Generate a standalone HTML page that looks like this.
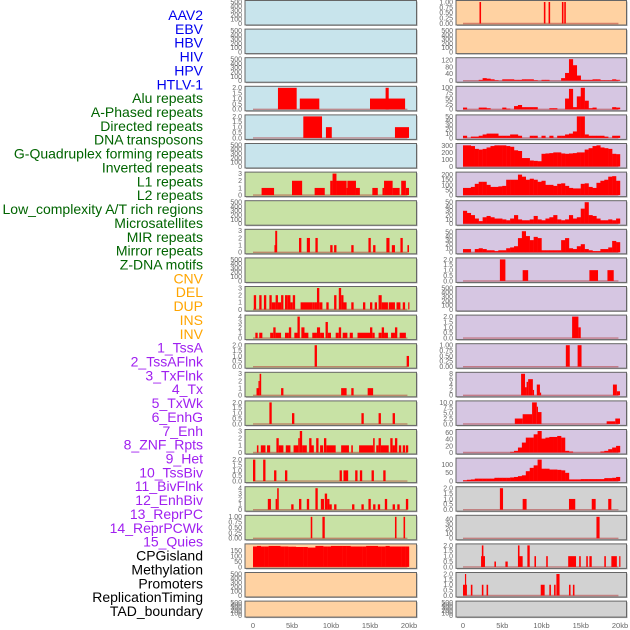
<!DOCTYPE html>
<html><head><meta charset="utf-8"><style>
body{margin:0;background:#fff;width:630px;height:630px;overflow:hidden}
svg{display:block}
.lab{font-family:"Liberation Sans",sans-serif;font-size:14px}
.tk{font-family:"Liberation Sans",sans-serif;font-size:7px;fill:#666}
.xt{font-family:"Liberation Sans",sans-serif;font-size:7.5px;fill:#666}
</style></head><body>
<svg id="chart" width="630" height="630" xmlns="http://www.w3.org/2000/svg"></svg>
<script>
const labels=["AAV2","EBV","HBV","HIV","HPV","HTLV-1","Alu repeats","A-Phased repeats","Directed repeats","DNA transposons","G-Quadruplex forming repeats","Inverted repeats","L1 repeats","L2 repeats","Low_complexity A/T rich regions","Microsatellites","MIR repeats","Mirror repeats","Z-DNA motifs","CNV","DEL","DUP","INS","INV","1_TssA","2_TssAFlnk","3_TxFlnk","4_Tx","5_TxWk","6_EnhG","7_Enh","8_ZNF_Rpts","9_Het","10_TssBiv","11_BivFlnk","12_EnhBiv","13_ReprPC","14_ReprPCWk","15_Quies","CPGisland","Methylation","Promoters","ReplicationTiming","TAD_boundary"];
const labelColors=[].concat(Array(6).fill("#0000ee"),Array(13).fill("#006400"),Array(5).fill("#ffa500"),Array(15).fill("#a020f0"),Array(5).fill("#000"));
const xTicks=[0,5,10,15,20];
const xTickLabels=["0","5kb","10kb","15kb","20kb"];
const leftBgs=["b","b","b","b","b","b","g","g","g","g","g","g","g","g","g","g","g","g","g","o","o","o"];
const rightBgs=["o","o","p","p","p","p","p","p","p","p","p","p","p","p","p","p","p","y","y","y","y","y"];
// left segments [startKb,endKb,value]
const L3=[[3.2,5.6,2],[6.0,8.5,1],[15.0,19.5,1],[17.0,17.4,2]];
const L4=[[6.45,8.85,2],[9.35,10.1,1],[18.2,20.0,1]];
const L6=[[1.1,2.7,1],[5.0,6.3,2],[7.9,9.2,1],[9.9,10.2,2],[10.2,10.7,3],[10.7,12.0,2],[12.0,12.1,1],[12.1,13.2,2],[13.2,13.7,1],[15.3,16.0,1],[16.6,16.8,1],[16.8,17.9,2],[17.9,18.8,1],[19.0,19.6,2],[19.6,20.0,1]];
const L8=[[2.85,3.1,3],[2.75,2.85,1],[5.9,6.2,2],[6.9,7.3,2],[8.0,8.3,2],[9.9,10.2,1],[10.4,10.7,1],[12.6,12.9,1],[14.8,15.1,2],[15.4,15.7,1],[17.1,17.5,2],[17.8,18.2,1],[18.9,19.2,2],[19.8,20.0,1]];
const L10=[[0.1,0.4,2],[0.8,1.1,2],[1.4,1.7,2],[2.1,2.4,2],[2.4,2.9,1],[2.9,3.2,2],[3.2,3.6,1],[3.6,3.9,2],[4.1,4.4,2],[4.4,4.8,2],[4.8,5.1,1],[5.1,5.4,2],[6.1,7.6,1],[7.6,7.9,1],[7.9,8.2,1],[8.2,8.5,3],[8.5,8.9,1],[9.4,9.7,1],[10.4,10.7,2],[11.0,11.3,3],[11.3,11.6,2],[11.6,12.0,1],[12.6,12.9,1],[14.1,14.4,1],[15.0,15.3,1],[15.6,15.9,1],[16.1,16.5,2],[16.5,17.3,1],[17.4,18.2,1],[18.4,18.9,1],[19.2,19.5,1],[19.9,20.0,1]];
const L11=[[0.3,0.6,1],[0.8,1.2,1],[2.2,2.6,1],[2.6,2.9,2],[2.9,3.6,1],[4.1,4.6,1],[4.6,4.9,2],[5.3,5.7,1],[5.7,6.0,4],[6.2,6.6,2],[6.6,7.1,1],[7.6,8.2,1],[8.2,8.6,2],[8.6,9.1,1],[9.3,9.6,3],[9.6,10.0,1],[10.6,11.0,1],[11.0,11.3,2],[11.5,12.1,1],[12.4,12.8,1],[13.4,15.0,1],[15.0,15.3,2],[15.3,15.6,1],[16.1,16.5,1],[16.5,16.8,2],[16.8,17.3,1],[17.7,18.2,1],[18.2,18.5,2],[18.8,19.6,1]];
const L12=[[7.9,8.2,2],[19.7,20.0,1]];
const L13=[[0.45,0.8,1],[0.7,0.85,2],[0.85,1.05,3],[3.6,3.9,1],[11.3,12.0,1],[12.6,12.9,1],[14.7,15.4,1]];
const L14=[[2.1,2.4,2],[5.0,5.3,1],[13.9,14.2,1],[16.1,16.4,1],[17.9,18.2,1]];
const L15=[[0.5,0.7,1],[1.0,1.6,1],[1.8,2.2,1],[3.0,3.3,2],[3.3,3.9,1],[4.2,4.8,1],[5.2,5.8,1],[5.8,6.0,2],[6.0,6.3,3],[6.3,6.9,1],[7.2,7.5,2],[7.5,7.8,1],[8.1,8.4,2],[8.6,9.0,1],[9.1,9.4,2],[9.4,10.6,1],[11.3,12.3,1],[12.6,12.8,1],[13.6,15.4,1],[15.4,15.6,2],[15.8,16.1,1],[16.1,16.4,2],[16.4,17.4,1],[17.6,17.9,2],[17.9,18.2,1],[18.2,18.5,2],[18.7,19.0,1],[19.2,19.5,1],[19.6,19.9,1]];
const L16=[[0.0,0.3,2],[1.3,1.6,2],[2.7,3.0,1],[4.1,4.4,1],[11.1,11.4,1],[11.6,12.2,1],[13.1,13.4,1],[13.7,14.0,1],[15.2,15.5,1],[16.7,17.0,1]];
const L17=[[1.9,2.3,2],[2.9,3.1,2],[3.1,3.3,4],[4.9,5.2,1],[5.9,6.2,2],[6.9,7.2,2],[8.0,8.3,4],[8.7,9.1,2],[9.2,9.5,3],[9.5,9.8,2],[9.8,10.1,1],[10.4,10.7,1],[12.7,13.0,1],[13.9,14.2,1],[14.8,15.1,2],[15.4,15.7,1],[16.0,16.3,1],[16.9,17.2,2],[17.9,18.2,1],[18.5,18.8,1],[19.6,19.9,2]];
const L18=[[7.4,7.6,1],[8.9,9.2,1],[18.2,18.4,1],[19.3,19.5,1]];
const L19bins=[190,195,190,190,195,195,195,190,190,188,188,185,185,185,180,180,195,195,190,190,195,195,195,195,195,190,190,190,190,195,195,195,190,190,195,190,190,190,190,190];
// right
const R0=[[2.1,2.3,1],[10.3,10.5,1],[10.9,11.1,1],[12.6,12.8,1],[12.9,13.1,1]];
const R2bins=[0,0,0,0,5,15,12,8,3,0,8,8,8,5,5,8,8,8,3,0,5,5,0,0,0,15,45,125,90,30,5,5,5,8,8,3,3,3,8,5];
const R3bins=[8,0,0,0,8,8,5,0,0,0,8,3,0,15,20,10,10,10,10,0,0,0,5,5,0,0,50,95,10,60,100,40,5,8,0,0,0,0,10,8];
const R4bins=[5,0,3,3,5,8,10,10,10,5,5,5,8,8,5,0,0,5,5,0,5,0,5,0,5,5,8,10,15,50,50,8,5,5,5,5,3,0,5,5];
const R5bins=[300,300,290,250,240,250,270,290,300,300,300,290,280,230,220,120,120,85,80,75,180,185,190,200,200,185,180,185,190,200,200,240,260,290,300,270,260,250,180,175];
const R6bins=[70,70,80,110,130,130,100,80,80,85,90,150,150,150,200,180,150,160,150,130,140,100,100,90,110,115,90,70,65,65,110,115,80,70,120,140,150,180,185,140];
const R7bins=[30,25,20,12,6,15,18,15,12,12,10,8,12,20,10,8,8,10,18,10,8,12,15,20,10,8,10,20,12,15,35,50,20,18,12,8,8,10,8,12];
const R8bins=[8,8,0,8,10,8,5,5,3,5,5,10,12,15,35,52,40,30,38,35,5,5,5,5,5,30,35,10,8,15,20,8,5,3,3,8,8,12,28,25];
const R9=[[4.7,5.4,2],[7.6,8.3,1],[16.1,17.2,1],[18.4,19.2,1]];
const R11=[[13.9,14.7,2],[14.7,15.0,1]];
const R12=[[13.1,13.6,1],[14.6,15.1,1]];
const R13=[[7.4,7.9,8],[7.9,8.1,3],[8.1,8.3,5],[8.3,8.9,6],[8.9,9.0,2],[9.4,9.8,4],[9.8,9.9,1],[19.1,19.6,4],[19.6,20.0,1.5]];
const R14=[[6.6,7.6,2.5],[7.6,8.8,4.5],[8.8,9.4,10],[9.4,9.5,8],[9.5,10.0,5.5],[18.3,19.4,1.2],[19.4,20.0,2.5]];
const R15bins=[0,0,0,0,0,0,0,0,0,0,0,0,2,5,15,30,45,45,55,65,42,45,47,47,50,45,5,3,0,0,0,0,0,0,0,3,5,10,15,20];
const R16bins=[5,8,10,15,15,15,15,15,20,20,20,20,22,25,30,35,60,80,95,130,75,75,70,70,68,65,50,10,10,10,12,12,12,12,12,12,18,18,20,25];
const R17=[[4.7,5.1,2],[7.6,8.1,1],[13.5,14.3,1],[16.4,16.9,1],[18.5,18.9,1]];
const R18=[[17.0,17.4,45]];
const R19=[[2.3,2.8,1],[2.4,2.6,2],[4.0,4.2,0.5],[5.4,5.7,0.5],[7.0,7.2,2],[7.2,7.6,1],[8.2,8.5,2],[9.1,9.3,1],[10.6,10.8,1],[13.4,14.4,1],[14.8,15.0,1],[15.7,15.9,1],[16.1,16.4,1],[18.0,18.2,1],[18.9,19.6,1],[19.9,20.0,1]];
const R20=[[0.0,0.5,1],[0.25,0.4,2],[1.0,1.2,1],[2.4,2.6,1],[3.0,3.2,1],[9.9,10.4,1],[11.0,11.2,1],[11.6,11.8,1],[11.9,12.3,2],[13.5,13.7,1],[14.0,14.2,1]];

const emptyTicks=[0,100,200,300,400,500];
const leftPanels=[
[null,"e",500,emptyTicks,0],[null,"e",500,emptyTicks,0],[null,"e",500,emptyTicks,0],
[L3,"s",2,[0,0.5,1,1.5,2],1],[L4,"s",2,[0,0.5,1,1.5,2],1],[null,"e",500,emptyTicks,0],
[L6,"s",3,[0,1,2,3],0],[null,"e",500,emptyTicks,0],[L8,"s",3,[0,1,2,3],0],[null,"e",500,emptyTicks,0],
[L10,"s",3,[0,1,2,3],0],[L11,"s",4,[0,1,2,3,4],0],[L12,"s",2,[0,0.5,1,1.5,2],1],[L13,"s",3,[0,1,2,3],0],
[L14,"s",2,[0,0.5,1,1.5,2],1],[L15,"s",3,[0,1,2,3],0],[L16,"s",2,[0,0.5,1,1.5,2],1],[L17,"s",4,[0,1,2,3,4],0],
[L18,"s",1,[0,0.25,0.5,0.75,1],2],[L19bins,"b",200,[0,50,100,150],0],[null,"e",500,emptyTicks,0],[null,"e",500,emptyTicks,0]];
const rightPanels=[
[R0,"s",1,[0,0.25,0.5,0.75,1],2],[null,"e",500,emptyTicks,0],[R2bins,"b",125,[0,40,80,120],0],
[R3bins,"b",100,[0,25,50,75,100],0],[R4bins,"b",50,[0,10,20,30,40,50],0],[R5bins,"b",305,[0,100,200,300],0],
[R6bins,"b",210,[0,50,100,150,200],0],[R7bins,"b",50,[0,10,20,30,40,50],0],[R8bins,"b",53,[0,10,20,30,40,50],0],
[R9,"s",2,[0,0.5,1,1.5,2],1],[null,"e",500,emptyTicks,0],[R11,"s",2,[0,0.5,1,1.5,2],1],
[R12,"s",1,[0,0.25,0.5,0.75,1],2],[R13,"s",8,[0,2,4,6,8],0],[R14,"s",10,[0,2.5,5,7.5,10],1],
[R15bins,"b",65,[0,20,40,60],0],[R16bins,"b",130,[0,50,100],0],[R17,"s",2,[0,0.5,1,1.5,2],1],
[R18,"s",45,[0,10,20,30,40],0],[R19,"s",2,[0,0.5,1,1.5,2],1],[R20,"s",2,[0,0.5,1,1.5,2],1],[null,"e",500,emptyTicks,0]];

const NS="http://www.w3.org/2000/svg";
const svg=document.getElementById("chart");
const bgColor={b:"#c8e4ec",g:"#c8e2a5",o:"#ffd2a2",p:"#d6c6e2",y:"#d2d2d2"};
function mk(tag,attrs,parent){const e=document.createElementNS(NS,tag);for(const k in attrs)e.setAttribute(k,attrs[k]);(parent||svg).appendChild(e);return e;}

labels.forEach((t,i)=>{
  const el=mk("text",{x:203,y:15+i*13.86+5,"text-anchor":"end",class:"lab",fill:labelColors[i]});
  
  
  el.textContent=t;
});

const cols=[{x0:245,x1:416.5,ox:253,sc:7.8,panels:leftPanels,bgs:leftBgs,name:"left"},{x0:456,x1:626.5,ox:463,sc:7.85,panels:rightPanels,bgs:rightBgs,name:"right"}];
cols.forEach(c=>{
  const xs=kb=>c.ox+kb*c.sc;
  c.panels.forEach((p,r)=>{
    const top=r*28.6+0.5, h=(r===21?16:24.5), bot=top+h;
    const g=mk("g",{});
    
    
    mk("rect",{x:c.x0+1,y:top+1,width:c.x1-c.x0,height:h,fill:"#aaa"},g);
    mk("rect",{x:c.x0,y:top,width:c.x1-c.x0,height:h,fill:bgColor[c.bgs[r]],stroke:"#666","stroke-width":1},g);
    const [data,kind,max,ticks,dec]=p;
    const ys=v=>bot-1.5-Math.min(v,max)/max*(h-3);
    ticks.forEach(t=>{
      const tx=mk("text",{x:c.x0-3,y:ys(t)+2.4,"text-anchor":"end",class:"tk"},g);
      
      
      tx.textContent=t.toFixed(dec);
    });
    if(kind==="e")return;
    mk("line",{x1:xs(0),x2:xs(19.8),y1:ys(0),y2:ys(0),stroke:"#b03030","stroke-width":1.4,"stroke-opacity":0.5},g);
    if(kind==="s"){
      data.forEach(d=>{
        const b=mk("rect",{x:xs(d[0]),y:ys(d[2]),width:Math.max(1.2,xs(d[1])-xs(d[0])),height:ys(0)-ys(d[2]),fill:"#ff0000"},g);
        
        
      });
    }else{
      data.forEach((v,i)=>{
        const b=mk("rect",{x:xs(i*0.5),y:ys(v),width:xs(0.5)-xs(0)+0.2,height:ys(0)-ys(v),fill:"#ff0000"},g);
        
        
      });
    }
  });
  xTicks.forEach((t,i)=>{
    const tx=mk("text",{x:xs(t),y:628,"text-anchor":"middle",class:"xt"});
    
    
    tx.textContent=xTickLabels[i];
  });
});
</script>
</body></html>
